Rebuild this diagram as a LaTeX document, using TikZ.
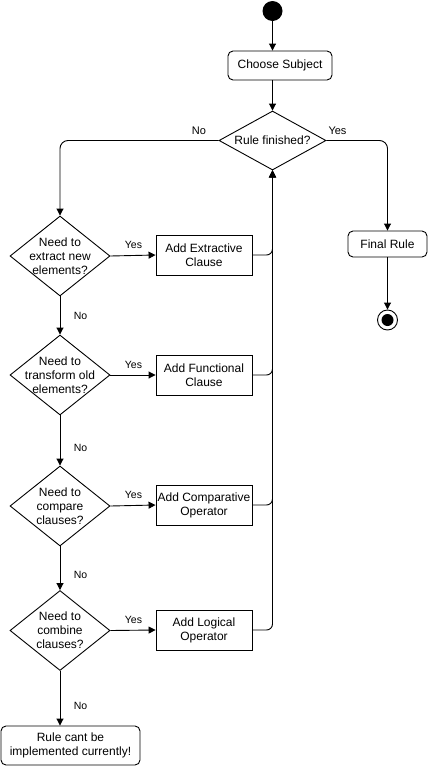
\documentclass[tikz,border=0pt]{standalone}
\usepackage{fontspec}
\setmainfont{Liberation Sans}
\usetikzlibrary{shapes.geometric,arrows.meta}
\begin{document}
\begin{tikzpicture}[x=1pt,y=-1pt,
  font=\fontsize{12}{14}\selectfont,
  line width=0.9pt,
  box/.style={draw, fill=white, minimum width=96pt, minimum height=40pt, align=center, inner sep=0pt},
  rbox/.style={box, rounded corners=5pt},
  dec/.style={draw, fill=white, diamond, minimum width=100pt, minimum height=80pt, inner sep=0pt},
  arr/.style={-{Triangle[length=7pt,width=7pt]}},
  lbl/.style={font=\fontsize{10.5}{12}\selectfont, inner sep=0pt},
  tlbl/.style={font=\fontsize{11}{13}\selectfont, inner sep=0pt}]
\useasboundingbox (0,0) rectangle (429,766);
% nodes
\node[circle, fill, minimum size=20pt, inner sep=0pt] (start) at (272.5,11) {};
\node[rbox, minimum width=104pt, minimum height=29pt] (choose) at (280,65.5) {Choose Subject};
\node[dec, minimum width=107pt, minimum height=59pt, label={center:Rule finished?}] (rf) at (272.5,140.5) {};
\node[rbox, minimum width=79pt, minimum height=26pt] (final) at (387.5,244) {Final Rule};
\node[circle, draw, minimum size=20pt, inner sep=0pt] (endo) at (387.5,320) {};
\node[circle, fill, minimum size=12pt, inner sep=0pt] (endi) at (387.5,320) {};

\node[dec, label={[align=center]center:Need to\\extract new\\elements?}] (d1) at (60,256) {};
\node[dec, label={[align=center]center:Need to\\transform old\\elements?}] (d2) at (60,375) {};
\node[dec, label={[align=center]center:Need to\\compare\\clauses?}] (d3) at (60,506) {};
\node[dec, label={[align=center]center:Need to\\combine\\clauses?}] (d4) at (60,630.5) {};

\node[box] (b1) at (204,255) {Add Extractive\\Clause};
\node[box] (b2) at (204,375) {Add Functional\\Clause};
\node[box] (b3) at (204,505) {Add Comparative\\Operator};
\node[box] (b4) at (204,630) {Add Logical\\Operator};

\node[rbox, minimum width=139pt, minimum height=39pt] (fail) at (70.5,745.5) {Rule cant be\\implemented currently!};

% labels
\node[tlbl] (lno) at (199,131) {No};
\node[tlbl] (lyes) at (337.5,131) {Yes};
\node[lbl] (y1) at (133.5,245) {Yes};
\node[lbl] (y2) at (133.5,365) {Yes};
\node[lbl] (y3) at (133.5,495) {Yes};
\node[lbl] (y4) at (133.5,620) {Yes};
\node[lbl] (n1) at (80.5,315.5) {No};
\node[lbl] (n2) at (80.5,447.5) {No};
\node[lbl] (n3) at (80.5,574.5) {No};
\node[lbl] (n4) at (80.5,706) {No};

% connectors
\draw[arr] (start) -- (start |- choose.north);
\draw[arr] (choose.south -| rf.north) -- (rf.north);
\draw[arr, rounded corners=8pt] (rf.west) -- (rf.west -| d1.north) -- (d1.north);
\draw[arr, rounded corners=8pt] (rf.east) -- (rf.east -| final.north) -- (final.north);
\draw[arr] (final.south) -- (endo.north);

\draw[arr] (d1.east) -- (b1.west);
\draw[arr] (d2.east) -- (b2.west);
\draw[arr] (d3.east) -- (b3.west);
\draw[arr] (d4.east) -- (b4.west);

\draw[arr] (d1.south) -- (d2.north);
\draw[arr] (d2.south) -- (d3.north);
\draw[arr] (d3.south) -- (d4.north);
\draw[arr] (d4.south) -- (d4.south |- fail.north);

\draw[arr, rounded corners=6pt] (b4.east) -- (b4.east -| rf.south) -- (rf.south);
\draw[arr, rounded corners=6pt] (b3.east) -- (b3.east -| rf.south) -- (rf.south);
\draw[arr, rounded corners=6pt] (b2.east) -- (b2.east -| rf.south) -- (rf.south);
\draw[arr, rounded corners=6pt] (b1.east) -- (b1.east -| rf.south) -- (rf.south);
\end{tikzpicture}
\end{document}
